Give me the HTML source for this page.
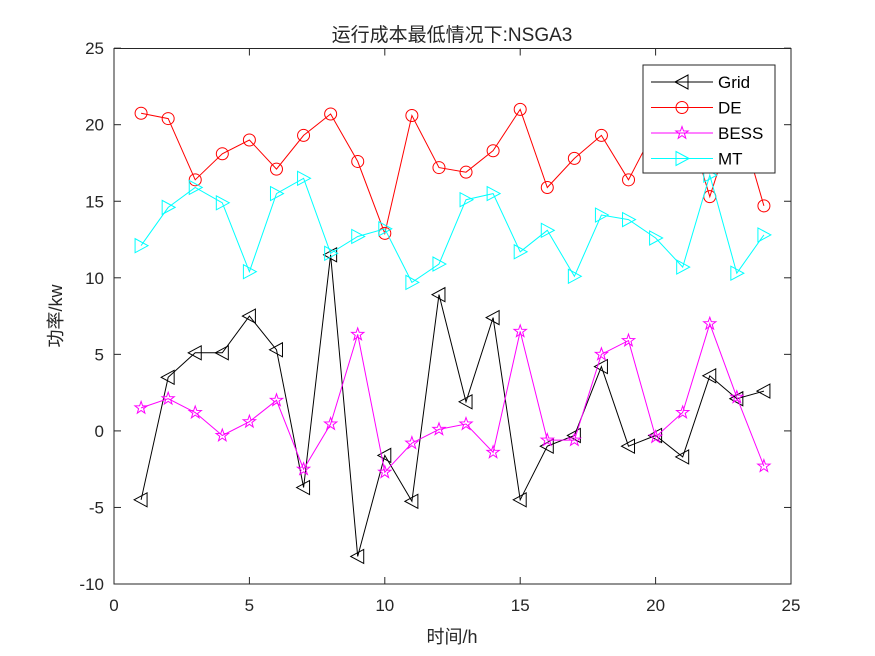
<!DOCTYPE html>
<html><head><meta charset="utf-8"><style>
html,body{margin:0;padding:0;background:#fff;width:875px;height:656px;overflow:hidden}
svg text{font-family:"Liberation Sans","Noto Sans CJK SC",sans-serif}
</style></head><body>
<svg id="s" width="875" height="656" xmlns="http://www.w3.org/2000/svg">
<rect x="0" y="0" width="875" height="656" fill="#fff"/>
<rect x="114" y="48.5" width="677" height="535.5" fill="#fff" stroke="#262626" stroke-width="1"/>
<text x="452" y="41" font-size="19" text-anchor="middle" fill="#262626">运行成本最低情况下:NSGA3</text>
<text x="452" y="643" font-size="18" text-anchor="middle" fill="#262626">时间/h</text>
<text transform="translate(62,316) rotate(-90)" font-size="18" text-anchor="middle" fill="#262626">功率/kw</text>
<g id="ax"></g>
<g id="data"></g>
<g id="leg"></g>
</svg>
<script>
var NS="http://www.w3.org/2000/svg";
function X(v){return 114+v*27.08;}
function Y(v){return 430.9-v*15.31;}
function el(p,t,a,txt){var e=document.createElementNS(NS,t);for(var k in a)e.setAttribute(k,a[k]);if(txt!==undefined)e.textContent=txt;p.appendChild(e);return e;}
var ax=document.getElementById('ax');
for(var i=0;i<=5;i++){var x=X(i*5);
 el(ax,'line',{x1:x,y1:584,x2:x,y2:577,stroke:'#262626'});
 el(ax,'line',{x1:x,y1:48.5,x2:x,y2:55.5,stroke:'#262626'});
 el(ax,'text',{x:x,y:611,'font-size':17,'text-anchor':'middle',fill:'#262626'},String(i*5));}
for(var v=-10;v<=25;v+=5){var y=Y(v);
 el(ax,'line',{x1:114,y1:y,x2:121,y2:y,stroke:'#262626'});
 el(ax,'line',{x1:791,y1:y,x2:784,y2:y,stroke:'#262626'});
 el(ax,'text',{x:104,y:y+6,'font-size':17,'text-anchor':'end',fill:'#262626'},String(v));}
var S=[
 {c:'#000',m:'tl',d:[-4.5,3.5,5.1,5.1,7.5,5.3,-3.7,11.5,-8.2,-1.6,-4.6,8.9,1.9,7.4,-4.5,-1.0,-0.3,4.2,-1.0,-0.3,-1.7,3.6,2.1,2.6]},
 {c:'#f00',m:'o',d:[20.75,20.4,16.4,18.1,19.0,17.1,19.3,20.7,17.6,12.9,20.6,17.2,16.9,18.3,21.0,15.9,17.8,19.3,16.4,19.8,21.2,15.3,20.8,14.7]},
 {c:'#f0f',m:'star',d:[1.5,2.1,1.2,-0.3,0.6,2.0,-2.5,0.45,6.3,-2.7,-0.8,0.1,0.45,-1.4,6.5,-0.6,-0.6,5.0,5.9,-0.4,1.2,7.0,2.2,-2.3]},
 {c:'#0ff',m:'tr',d:[12.1,14.6,15.9,14.9,10.4,15.5,16.5,11.6,12.7,13.2,9.7,10.9,15.1,15.5,11.7,13.1,10.1,14.1,13.8,12.6,10.7,16.7,10.3,12.8]}];
function mk(g,m,x,y,c){
 if(m=='o')el(g,'circle',{cx:x,cy:y,r:6,fill:'none',stroke:c});
 else if(m=='tl')el(g,'polygon',{points:(x-7)+','+y+' '+(x+6)+','+(y-7)+' '+(x+6)+','+(y+7),fill:'none',stroke:c});
 else if(m=='tr')el(g,'polygon',{points:(x+7)+','+y+' '+(x-6)+','+(y-7)+' '+(x-6)+','+(y+7),fill:'none',stroke:c});
 else {var p=[];for(var k=0;k<10;k++){var r=k%2?2.6:6.5,a=-Math.PI/2+k*Math.PI/5;p.push((x+r*Math.cos(a)).toFixed(1)+','+(y+r*Math.sin(a)).toFixed(1));}
  el(g,'polygon',{points:p.join(' '),fill:'none',stroke:c});}
}
var dg=document.getElementById('data');
S.forEach(function(s){var p=s.d.map(function(v,i){return X(i+1).toFixed(1)+','+Y(v).toFixed(1);}).join(' ');
 el(dg,'polyline',{points:p,fill:'none',stroke:s.c,'stroke-width':1});
 s.d.forEach(function(v,i){mk(dg,s.m,X(i+1),Y(v),s.c);});});
var lg=document.getElementById('leg');
el(lg,'rect',{x:643,y:65,width:132,height:108,fill:'#fff',stroke:'#262626'});
var names=['Grid','DE','BESS','MT'];
S.forEach(function(s,i){var y=82+i*25.5;
 el(lg,'line',{x1:651,y1:y,x2:713,y2:y,stroke:s.c});
 mk(lg,s.m,682,y,s.c);
 el(lg,'text',{x:718,y:y+6,'font-size':17,fill:'#000'},names[i]);});
</script>
</body></html>
